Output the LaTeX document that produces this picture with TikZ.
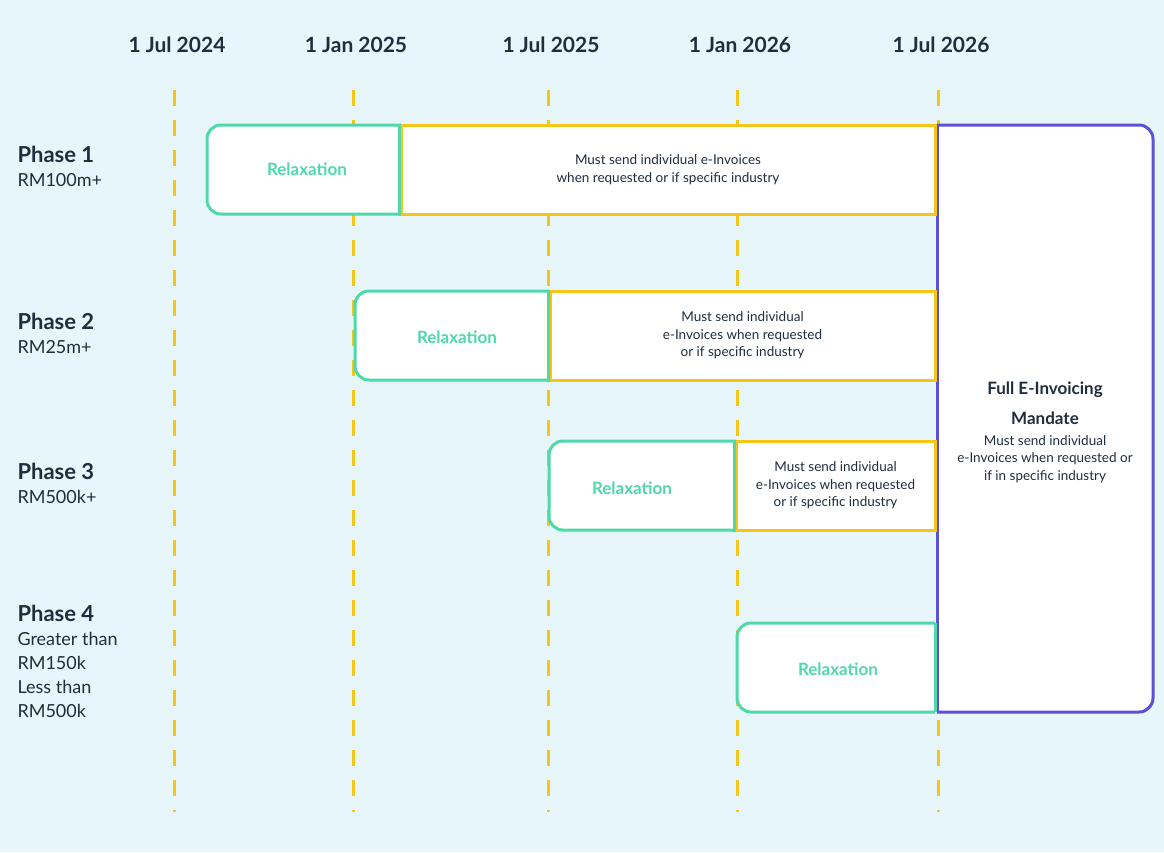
\documentclass[tikz,border=0pt]{standalone}
\usepackage{fontspec}
\usetikzlibrary{positioning}
\setmainfont{Lato}
\definecolor{bgblue}{HTML}{E6F6FB}
\definecolor{relaxgreen}{HTML}{4FD8A8}
\definecolor{mustyellow}{HTML}{F5C518}
\definecolor{fullpurple}{HTML}{5B50D6}
\definecolor{inkdark}{HTML}{1F2D3D}
\tikzset{
  datelabel/.style={font=\fontsize{21}{24}\selectfont\bfseries, text=inkdark},
  phaselabel/.style={anchor=north west, align=left, text=inkdark, font=\fontsize{18}{24}\selectfont},
  relaxbox/.style={minimum height=89pt, text=relaxgreen, font=\fontsize{17}{20}\selectfont\bfseries},
  mustbox/.style={draw=mustyellow, line width=3pt, fill=white, minimum height=89pt, align=center,
    text=inkdark, font=\fontsize{13.5}{17.5}\selectfont},
  greenline/.style={draw=relaxgreen, line width=3pt, rounded corners=14pt, fill=white},
  timeline/.style={mustyellow, line width=3pt, dash pattern=on 16pt off 14pt},
}
\begin{document}
\begin{tikzpicture}[x=1pt,y=-1pt]
  \fill[bgblue] (0,0) rectangle (1164,852);

  % Dates and dashed time lines
  \foreach \xx/\dd/\nm in {174/1 Jul 2024/d1, 353/1 Jan 2025/d2, 548/1 Jul 2025/d3,
                           737/1 Jan 2026/d4, 938/1 Jul 2026/d5} {
    \node[datelabel] (\nm) at (\xx+3,45) {\dd};
    \draw[timeline] (\xx,90) -- (\xx,812);
  }

  % Phase labels (left)
  \node[phaselabel] (p1) at (14,143) {{\fontsize{22}{24}\selectfont\bfseries Phase 1}\\RM100m+};
  \node[phaselabel] (p2) at (14,310) {{\fontsize{22}{24}\selectfont\bfseries Phase 2}\\RM25m+};
  \node[phaselabel] (p3) at (14,460) {{\fontsize{22}{24}\selectfont\bfseries Phase 3}\\RM500k+};
  \node[phaselabel] (p4) at (14,602) {{\fontsize{22}{24}\selectfont\bfseries Phase 4}\\Greater than\\RM150k\\Less than\\RM500k};

  % Full mandate box
  \draw[fullpurple, line width=3pt, fill=white, rounded corners=14pt]
    (937,125) -- (1153,125) -- (1153,712) -- (937,712);
  \draw[fullpurple, line width=3pt] (937,125) -- (937,712);
  \node[align=center, text=inkdark, font=\fontsize{17}{30}\selectfont\bfseries] (full) at (1045,403)
    {Full E-Invoicing\\Mandate};
  \node[align=center, text=inkdark, font=\fontsize{13.5}{17.5}\selectfont, below=4pt of full] (fulltxt)
    {Must send individual\\e-Invoices when requested or\\if in specific industry};

  % Phase 1
  \draw[greenline] (401,125) -- (207,125) -- (207,214) -- (401,214);
  \node[relaxbox] (r1) at (307,169.5) {Relaxation};
  \node[mustbox, minimum width=534pt] (m1) at (668,169.5)
    {Must send individual e-Invoices\\when requested or if specific industry};

  % Phase 2
  \draw[greenline] (549,291) -- (355,291) -- (355,380) -- (549,380);
  \node[relaxbox] (r2) at (457,337) {Relaxation};
  \node[mustbox, minimum width=385pt] (m2) at (742.5,335.5)
    {Must send individual\\e-Invoices when requested\\or if specific industry};
  \draw[relaxgreen, line width=3pt] (m2.north west) -- (m2.south west);

  % Phase 3
  \draw[greenline] (736,441) -- (549,441) -- (549,530) -- (736,530);
  \node[relaxbox] (r3) at (632,488) {Relaxation};
  \node[mustbox, minimum width=199pt] (m3) at (835.5,485.5)
    {Must send individual\\e-Invoices when requested\\or if specific industry};
  \draw[relaxgreen, line width=3pt] (m3.north west) -- (m3.south west);
  \draw[relaxgreen, line width=3pt] (m1.north west) -- (m1.south west);

  % Phase 4
  \draw[greenline] (935,623) -- (737,623) -- (737,712) -- (935,712);
  \draw[relaxgreen, line width=3pt] (935,623) -- (935,712);
  \node[relaxbox] (r4) at (838,669) {Relaxation};
\end{tikzpicture}
\end{document}
